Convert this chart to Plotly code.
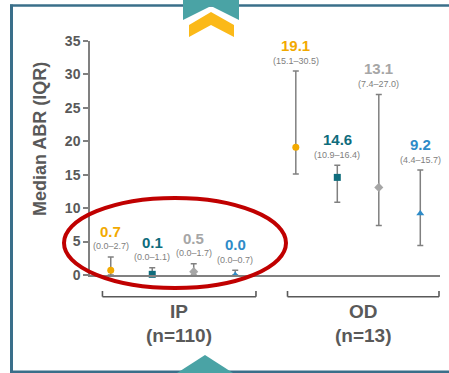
import plotly.graph_objects as go

# ---------------- data ----------------
groups = ["IP", "OD"]
group_n = [110, 13]
series = ["Series 1", "Series 2", "Series 3", "Series 4"]
median_ip = [0.7, 0.1, 0.5, 0.0]
q1_ip = [0.0, 0.0, 0.0, 0.0]
q3_ip = [2.7, 1.1, 1.7, 0.7]
median_od = [19.1, 14.6, 13.1, 9.2]
q1_od = [15.1, 10.9, 7.4, 4.4]
q3_od = [30.5, 16.4, 27.0, 15.7]
y_ticks = [0, 5, 10, 15, 20, 25, 30, 35]

# ---------------- style ----------------
colors = ["#f2a900", "#0f6c7c", "#a6a6a6", "#2e8bc8"]
symbols = ["circle", "square", "diamond", "triangle-up"]
FONT = "Liberation Sans, Arial, sans-serif"
DARK = "#595959"
GREY = "#808080"
GROUP_GAP = 4.46
X_RANGE = [-0.5, 7.935]

W, H = 449, 373
ML, MR, MT, MB = 90, 9, 41, 98
PW, PH = W - ML - MR, H - MT - MB


def pxx(x):
    return (x - ML) / PW


def pxy(y):
    return (H - MB - y) / PH


def dx2paper(v):
    return (v - X_RANGE[0]) / (X_RANGE[1] - X_RANGE[0])


medians = [median_ip, median_od]
q1s = [q1_ip, q1_od]
q3s = [q3_ip, q3_od]

fig = go.Figure()
annotations = []
shapes = []

for i, name in enumerate(series):
    xs, ys, up, down = [], [], [], []
    for g in range(len(groups)):
        xs.append(g * GROUP_GAP + i)
        ys.append(medians[g][i])
        up.append(q3s[g][i] - medians[g][i])
        down.append(medians[g][i] - q1s[g][i])
        annotations.append(dict(
            x=g * GROUP_GAP + i, y=q3s[g][i], xref="x", yref="y",
            text=f"{medians[g][i]:.1f}", showarrow=False, yshift=25.5,
            yanchor="middle", xanchor="center",
            font=dict(family=FONT, size=15, color=colors[i], weight="bold")))
        annotations.append(dict(
            x=g * GROUP_GAP + i, y=q3s[g][i], xref="x", yref="y",
            text=f"({q1s[g][i]:.1f}\u2013{q3s[g][i]:.1f})", showarrow=False,
            yshift=10.5, yanchor="middle", xanchor="center",
            font=dict(family=FONT, size=9, color=GREY)))
    fig.add_trace(go.Scatter(
        x=xs, y=ys, mode="markers", name=name, showlegend=False,
        cliponaxis=False, hoverinfo="skip",
        marker=dict(color=colors[i], symbol=symbols[i], size=7),
        error_y=dict(type="data", symmetric=False, array=up, arrayminus=down,
                     color=GREY, thickness=1.5, width=3)))

# group brackets and labels
yb = pxy(296.7)
yt = pxy(291)
for g, (lab, n) in enumerate(zip(groups, group_n)):
    x0 = dx2paper(g * GROUP_GAP - 0.2)
    x1 = min(dx2paper(g * GROUP_GAP + 3.5), pxx(439))
    for seg in [(x0, yt, x0, yb), (x0, yb, x1, yb), (x1, yb, x1, yt)]:
        shapes.append(dict(type="line", xref="paper", yref="paper",
                           x0=seg[0], y0=seg[1], x1=seg[2], y1=seg[3],
                           line=dict(color=DARK, width=1.6)))
    xc = (x0 + x1) / 2
    annotations.append(dict(x=xc, y=pxy(311.7), xref="paper", yref="paper",
                            text=lab, showarrow=False, yanchor="middle",
                            xanchor="center",
                            font=dict(family=FONT, size=19, color=DARK, weight="bold")))
    annotations.append(dict(x=xc, y=pxy(335), xref="paper", yref="paper",
                            text=f"(n={n})", showarrow=False, yanchor="middle",
                            xanchor="center",
                            font=dict(family=FONT, size=19, color=DARK, weight="bold")))

# y axis title
annotations.append(dict(x=pxx(40), y=pxy(139), xref="paper", yref="paper",
                        text="Median ABR (IQR)", textangle=-90, showarrow=False,
                        xanchor="center", yanchor="middle",
                        font=dict(family=FONT, size=18, color=DARK, weight="bold")))

# frame
BORDER = "#3a6f8a"
shapes.append(dict(type="line", xref="paper", yref="paper",
                   x0=pxx(11.5), x1=pxx(11.5), y0=pxy(373), y1=pxy(4.5),
                   line=dict(color=BORDER, width=3)))
shapes.append(dict(type="line", xref="paper", yref="paper",
                   x0=pxx(10), x1=pxx(449), y0=pxy(5.5), y1=pxy(5.5),
                   line=dict(color=BORDER, width=2.5)))
shapes.append(dict(type="line", xref="paper", yref="paper",
                   x0=pxx(10), x1=pxx(449), y0=pxy(372), y1=pxy(372),
                   line=dict(color=BORDER, width=3)))

# decorative chevrons
TEAL = "#4aa3a5"
YEL = "#fbb918"


def poly(pts):
    return "M " + " L ".join(f"{pxx(a)} {pxy(b)}" for a, b in pts) + " Z"


shapes.append(dict(type="path", xref="paper", yref="paper",
                   path=poly([(183, 0), (239, 0), (239, 20), (211, 6), (183, 20)]),
                   fillcolor=TEAL, line=dict(width=0)))
shapes.append(dict(type="path", xref="paper", yref="paper",
                   path=poly([(189, 25), (211, 12), (234, 25), (234, 37), (211, 25), (189, 37)]),
                   fillcolor=YEL, line=dict(width=0)))
shapes.append(dict(type="path", xref="paper", yref="paper",
                   path=poly([(177, 373), (205, 355), (233, 373)]),
                   fillcolor=TEAL, line=dict(width=0)))

# red highlight ellipse
shapes.append(dict(type="circle", xref="paper", yref="paper",
                   x0=pxx(64), x1=pxx(286), y0=pxy(288), y1=pxy(198),
                   line=dict(color="#c00000", width=4)))

fig.update_layout(
    width=W, height=H, autosize=False, hovermode=False,
    margin=dict(l=ML, r=MR, t=MT, b=MB, pad=0),
    paper_bgcolor="white", plot_bgcolor="white",
    xaxis=dict(range=X_RANGE, showgrid=False, zeroline=False,
               showticklabels=False, ticks="", showline=True,
               linecolor=GREY, linewidth=1.5, fixedrange=True),
    yaxis=dict(range=[0, 35], tickvals=y_ticks, showgrid=False, zeroline=False,
               showline=True, linecolor=GREY, linewidth=1.5,
               ticks="outside", ticklen=5, tickcolor=GREY, tickwidth=1.5,
               tickfont=dict(family=FONT, size=14, color=DARK, weight="bold"),
               fixedrange=True),
    annotations=annotations, shapes=shapes, showlegend=False,
)

fig.write_html(
    "out.html", config={"displayModeBar": False},
    post_script=("document.documentElement.style.overflow='hidden';"
                 "document.documentElement.style.margin='0';"
                 "document.body.style.margin='0';"
                 "document.body.style.overflow='hidden';"))
